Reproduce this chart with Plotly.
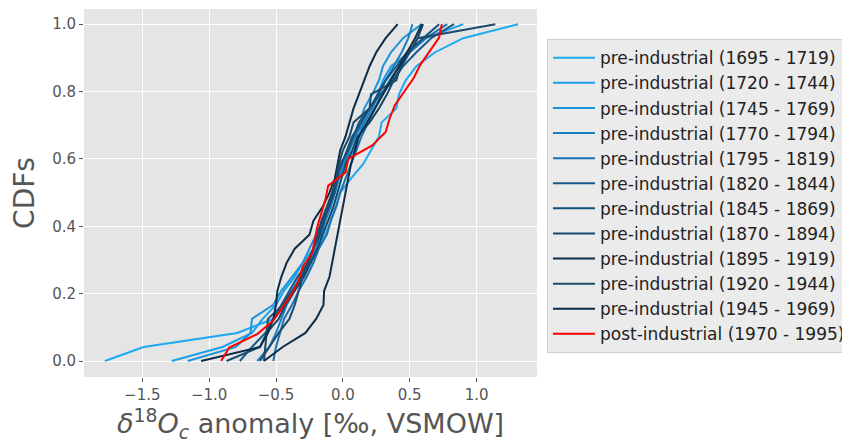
import plotly.graph_objects as go

labels = [
    "pre-industrial (1695 - 1719)", "pre-industrial (1720 - 1744)",
    "pre-industrial (1745 - 1769)", "pre-industrial (1770 - 1794)",
    "pre-industrial (1795 - 1819)", "pre-industrial (1820 - 1844)",
    "pre-industrial (1845 - 1869)", "pre-industrial (1870 - 1894)",
    "pre-industrial (1895 - 1919)", "pre-industrial (1920 - 1944)",
    "pre-industrial (1945 - 1969)", "post-industrial (1970 - 1995)",
]
colors = ["#1DA9F2", "#1CA0EA", "#1A95DC", "#1A80C2", "#1A72B0", "#165A8A",
          "#144E78", "#11486C", "#0C2C48", "#1D4A6B", "#0D2D48", "#FF0000"]

s1695 = [-1.78, -1.49, -0.79, -0.52, -0.45, -0.40, -0.33, -0.24, -0.19, -0.13, -0.09, -0.05,
         -0.02, 0.06, 0.15, 0.21, 0.27, 0.29, 0.40, 0.42, 0.47, 0.55, 0.69, 0.90, 1.31]
s1720 = [-1.28, -0.90, -0.68, -0.60, -0.50, -0.44, -0.36, -0.30, -0.22, -0.18, -0.14, -0.10,
         -0.06, -0.03, 0.02, 0.08, 0.12, 0.16, 0.22, 0.26, 0.30, 0.36, 0.50, 0.62, 0.90]
s1745 = [-1.16, -0.80, -0.69, -0.68, -0.52, -0.46, -0.38, -0.30, -0.25, -0.20, -0.15, -0.11,
         -0.08, -0.03, 0.00, 0.04, 0.10, 0.13, 0.16, 0.22, 0.27, 0.30, 0.36, 0.45, 0.59]
s1770 = [-0.64, -0.55, -0.50, -0.46, -0.42, -0.36, -0.30, -0.25, -0.20, -0.16, -0.13, -0.09,
         -0.06, -0.03, 0.01, 0.05, 0.09, 0.16, 0.22, 0.27, 0.32, 0.38, 0.44, 0.49, 0.52]
s1795 = [-0.52, -0.50, -0.47, -0.44, -0.38, -0.33, -0.27, -0.22, -0.18, -0.12, -0.09, -0.05,
         -0.02, 0.02, 0.06, 0.10, 0.14, 0.19, 0.24, 0.29, 0.35, 0.42, 0.50, 0.62, 0.78]
s1820 = [-0.77, -0.68, -0.58, -0.52, -0.46, -0.40, -0.34, -0.26, -0.22, -0.18, -0.15, -0.10,
         -0.06, -0.04, -0.02, 0.04, 0.08, 0.12, 0.20, 0.28, 0.38, 0.45, 0.55, 0.66, 0.83]
s1845 = [-0.87, -0.62, -0.57, -0.56, -0.45, -0.38, -0.31, -0.26, -0.22, -0.17, -0.14, -0.11,
         -0.07, -0.05, -0.01, 0.03, 0.07, 0.14, 0.20, 0.26, 0.32, 0.40, 0.48, 0.60, 0.72]
s1870 = [-0.59, -0.58, -0.57, -0.48, -0.43, -0.36, -0.29, -0.24, -0.19, -0.15, -0.11, -0.07,
         -0.04, -0.01, 0.02, 0.07, 0.11, 0.20, 0.27, 0.33, 0.38, 0.44, 0.50, 0.56, 0.60]
s1895 = [-1.06, -0.62, -0.56, -0.52, -0.50, -0.49, -0.46, -0.42, -0.36, -0.25, -0.22, -0.15,
         -0.10, -0.06, -0.04, -0.02, 0.02, 0.05, 0.08, 0.12, 0.16, 0.20, 0.25, 0.32, 0.41]
s1920 = [-0.62, -0.55, -0.48, -0.40, -0.36, -0.33, -0.30, -0.26, -0.22, -0.19, -0.16, -0.12,
         -0.08, -0.05, -0.03, 0.00, 0.05, 0.08, 0.20, 0.21, 0.40, 0.43, 0.50, 0.56, 1.14]
s1945 = [-0.59, -0.45, -0.28, -0.20, -0.145, -0.14, -0.10, -0.08, -0.06, -0.04, -0.02, 0.00,
         0.02, 0.04, 0.06, 0.09, 0.12, 0.18, 0.24, 0.30, 0.36, 0.42, 0.48, 0.54, 0.59]
s1970 = [-0.91, -0.85, -0.64, -0.52, -0.45, -0.38, -0.33, -0.30, -0.23, -0.21, -0.19, -0.16,
         -0.13, -0.11, 0.02, 0.04, 0.22, 0.32, 0.35, 0.39, 0.46, 0.53, 0.58, 0.65, 0.72, 0.74]

series = [s1695, s1720, s1745, s1770, s1795, s1820, s1845, s1870, s1895, s1920, s1945, s1970]

fig = go.Figure()
for lab, col, xs in zip(labels, colors, series):
    n = len(xs)
    ys = [i / (n - 1) for i in range(n)]
    fig.add_trace(go.Scatter(x=xs, y=ys, mode="lines", name=lab,
                             line=dict(color=col, width=2)))

axis_common = dict(
    showgrid=True, gridcolor="white", gridwidth=1.2, zeroline=False,
    showline=False, ticks="outside", ticklen=4, tickcolor="#555555",
    tickfont=dict(size=15, color="#555555"), automargin=True,
)

# page body has an 8px offset; margins compensate so the plot area lands at
# x 84..537, y 9..377 in the 850x445 window
fig.update_layout(
    width=850, height=445,
    margin=dict(l=76, r=321, t=1, b=76, autoexpand=True),
    paper_bgcolor="white", plot_bgcolor="#E5E5E5",
    font=dict(family="DejaVu Sans", color="#555555"),
    xaxis=dict(range=[-1.936, 1.452], tickvals=[-1.5, -1.0, -0.5, 0.0, 0.5, 1.0],
               tickformat=".1f",
               title=dict(text="<i>δ</i><sup>18</sup><i>O</i><sub><i>c</i></sub> anomaly [‰, VSMOW]",
                          font=dict(size=27, color="#555555"), standoff=8),
               **axis_common),
    yaxis=dict(range=[-0.0475, 1.045], tickvals=[0, 0.2, 0.4, 0.6, 0.8, 1.0],
               tickformat=".1f",
               title=dict(text="CDFs", font=dict(size=28, color="#555555"), standoff=10),
               **axis_common),
    legend=dict(x=1.022, y=0.918, xanchor="left", yanchor="top",
                bgcolor="#EBEBEB", bordercolor="#D0D0D0", borderwidth=1,
                font=dict(size=17, color="#222222"), tracegroupgap=0,
                itemwidth=42),
    showlegend=True,
)

fig.write_html("out.html")
